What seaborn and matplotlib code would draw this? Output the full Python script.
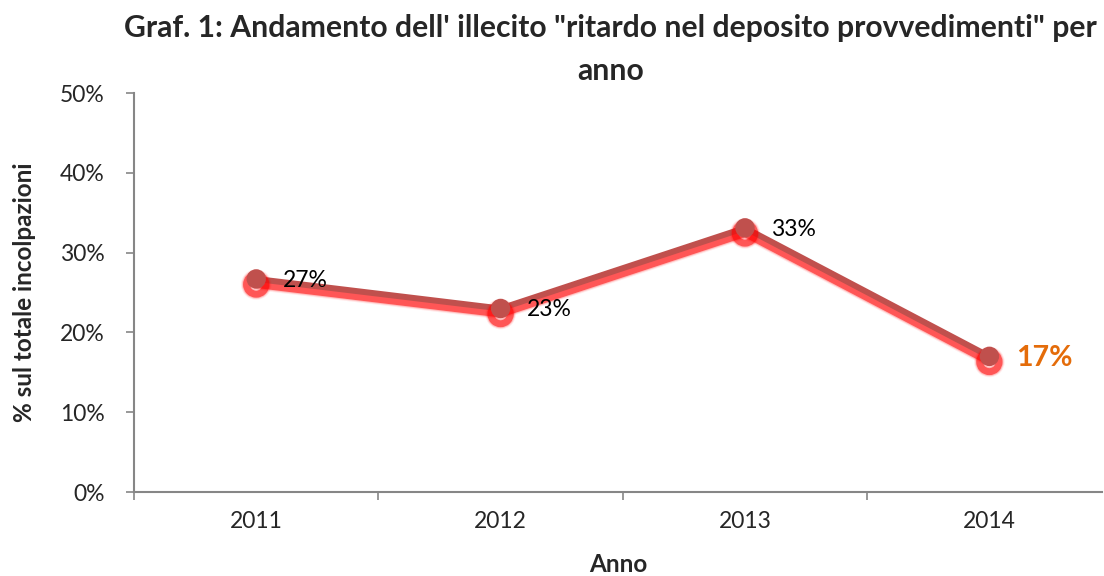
import numpy as np
import pandas as pd
import seaborn as sns
import matplotlib.pyplot as plt
import matplotlib.patheffects as pe
from matplotlib.ticker import FuncFormatter, FixedLocator

anni = ["2011", "2012", "2013", "2014"]
percentuali = [26.7, 23.0, 33.1, 17.0]
etichette = ["27%", "23%", "33%", "17%"]

sns.set_style("white")
plt.rcParams["font.family"] = ["Lato", "DejaVu Sans"]

df = pd.DataFrame({"anno": anni, "perc": percentuali})

fig = plt.figure(figsize=(11.04, 5.76), dpi=100)
ax = fig.add_axes([0.1214, 0.1458, 0.8766, 0.6927])

# red glow slightly below the line
glow = []
for lw, a in [(8, 0.08), (6.5, 0.18), (5, 0.55)]:
    glow.append(pe.SimpleLineShadow(offset=(0, -4), shadow_color="#ff0000", alpha=a, linewidth=lw))
glow.append(pe.Normal())

sns.lineplot(data=df, x="anno", y="perc", ax=ax, color="#C0504D", linewidth=4.3,
             marker="o", markersize=14, markeredgewidth=0, sort=False,
             path_effects=glow)

for i, (v, t) in enumerate(zip(percentuali, etichette)):
    if i == 3:
        ax.annotate(t, (i, v), xytext=(19, -1), textcoords="offset points",
                    va="center", ha="left", fontsize=20.5, fontweight="bold", color="#E46C0A")
    else:
        ax.annotate(t, (i, v), xytext=(19, -1), textcoords="offset points",
                    va="center", ha="left", fontsize=16.5, color="black")

ax.set_ylim(0, 50)
ax.set_xlim(-0.5, 3.46)
ax.yaxis.set_major_locator(FixedLocator([0, 10, 20, 30, 40, 50]))
ax.yaxis.set_major_formatter(FuncFormatter(lambda y, p: f"{y:.0f}%"))

for s in ["top", "right"]:
    ax.spines[s].set_visible(False)
for s in ["left", "bottom"]:
    ax.spines[s].set_color("#868686")
    ax.spines[s].set_linewidth(1.5)

ax.tick_params(axis="y", which="major", left=True, length=6, color="#868686", width=1.2,
               labelsize=16.5, pad=15)
ax.tick_params(axis="x", which="major", bottom=False, labelsize=16.5, pad=10)
ax.set_xticks([-0.5, 0.5, 1.5, 2.5], minor=True)
ax.tick_params(axis="x", which="minor", bottom=True, length=6, color="#868686", width=1.2)

ax.set_xlabel("Anno", fontsize=17.5, fontweight="bold", labelpad=15)
ax.set_ylabel("% sul totale incolpazioni", fontsize=17.5, fontweight="bold", labelpad=17)

fig.suptitle("Graf. 1: Andamento dell' illecito \"ritardo nel deposito provvedimenti\" per\nanno",
             x=0.553, y=0.975, fontsize=21.7, fontweight="bold", linespacing=1.65)

fig.savefig("out.png", dpi=100)
